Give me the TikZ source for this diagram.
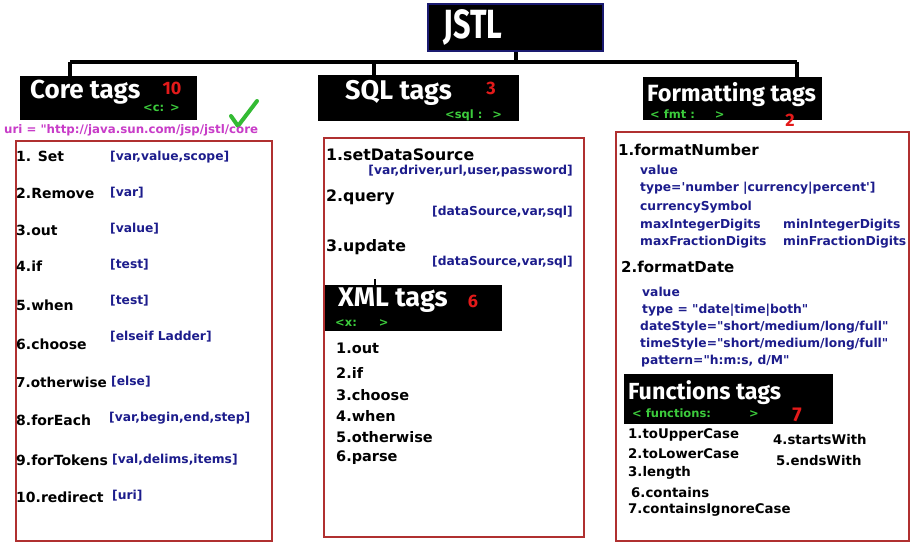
\documentclass[tikz,border=0pt]{standalone}
\usepackage{fontspec}
\setmainfont{DejaVu Sans}[Ligatures=TeXOff]
\newfontfamily\hdrfont{Fira Sans}
\usetikzlibrary{calc}
\definecolor{boxred}{HTML}{B03030}
\definecolor{attrblue}{HTML}{1C1C8C}
\definecolor{tagGreen}{HTML}{3CCB3C}
\definecolor{numred}{HTML}{E31A1A}
\definecolor{urimag}{HTML}{C83CC8}
\definecolor{jstlnavy}{HTML}{1A1A70}
\definecolor{checkgreen}{HTML}{33BB33}
\begin{document}
\begin{tikzpicture}[x=1pt,y=-1pt,
  blackbox/.style={fill=black, draw=none, inner sep=0pt, anchor=north west},
  listbox/.style={draw=boxred, line width=2pt, fill=white, inner sep=0pt, anchor=north west},
  tree/.style={line width=4pt, black},
  hdrtext/.style={text=white, font=\hdrfont\bfseries\fontsize{26}{28}\selectfont, anchor=west, inner sep=0pt},
  greentext/.style={text=tagGreen, font=\bfseries\fontsize{11.5}{13}\selectfont, anchor=west, inner sep=0pt},
  numtext/.style={text=numred, font=\hdrfont\bfseries\fontsize{18}{20}\selectfont, inner sep=0pt},
  item/.style={font=\bfseries\fontsize{14}{16}\selectfont, anchor=west, inner sep=0pt},
  bigitem/.style={font=\bfseries\fontsize{15.8}{18}\selectfont, anchor=west, inner sep=0pt},
  attr/.style={text=attrblue, font=\bfseries\fontsize{12.3}{14}\selectfont, anchor=west, inner sep=0pt},
]
\useasboundingbox[fill=white] (0,0) rectangle (914,546);

% title
\node[blackbox, draw=jstlnavy, line width=2pt, minimum width=175pt, minimum height=47pt] (jstl) at (427,3) {};
\node[text=white, font=\hdrfont\bfseries\fontsize{34}{36}\selectfont, inner sep=0pt] (jstltxt) at (473,27) {\scalebox{0.9}[1.2]{JSTL}};

% header boxes
\node[blackbox, minimum width=177pt, minimum height=44pt] (core) at (20,76) {};
\node[blackbox, minimum width=201pt, minimum height=46pt] (sql) at (318,75) {};
\node[blackbox, minimum width=179pt, minimum height=43pt] (fmt) at (643,77) {};

% tree connectors
\coordinate (busL) at (70,62);
\coordinate (busM) at (374,62);
\coordinate (busR) at (797,62);
\draw[tree] (busL) -- (busR);
\draw[tree] (jstl.south) -- (jstl.south |- busL);
\draw[tree] (busL) -- (busL |- core.north);
\draw[tree] (busM) -- (busM |- sql.north);
\draw[tree] (busR) -- (busR |- fmt.north);

% list boxes
\node[listbox, minimum width=256pt, minimum height=400pt] (corelist) at (15,140) {};
\node[listbox, minimum width=260pt, minimum height=399pt] (sqllist) at (323,137) {};
\node[listbox, minimum width=293pt, minimum height=409pt] (fmtlist) at (615,131) {};

% inner header boxes
\node[blackbox, minimum width=177pt, minimum height=46pt] (xml) at (325,285) {};
\node[blackbox, minimum width=209pt, minimum height=50pt] (func) at (624,374) {};
\coordinate (xmlstub) at ($(xml.north west)+(50,-6)$);
\draw[line width=1.5pt] (xmlstub) -- (xmlstub |- xml.north);

% header texts
\node[hdrtext] (coreT) at (30,92) {Core tags};
\node[numtext] (coreN) at (172,88) {10};
\node[greentext] (coreG) at (143,108) {<c:\hspace{6pt}>};

\node[hdrtext, font=\hdrfont\bfseries\fontsize{27}{29}\selectfont] (sqlT) at (345,93) {SQL tags};
\node[numtext] (sqlN) at (491,88) {3};
\node[greentext] (sqlG) at (445,115) {<sql :\hspace{10pt}>};

\node[hdrtext, font=\hdrfont\bfseries\fontsize{23.5}{25}\selectfont] (fmtT) at (647,95) {Formatting tags};
\node[greentext] (fmtG) at (650,114) {< fmt :\hspace{20pt}>};
\node[numtext] (fmtN) at (790,120) {2};

\node[hdrtext, font=\hdrfont\bfseries\fontsize{27}{29}\selectfont] (xmlT) at (338,300) {XML tags};
\node[numtext] (xmlN) at (473,301) {6};
\node[greentext] (xmlG) at (335,323) {<x:\hspace{22pt}>};

\node[hdrtext, font=\hdrfont\bfseries\fontsize{23.3}{25}\selectfont] (funcT) at (628,393) {Functions tags};
\node[greentext] (funcG) at (632,413) {< functions:\hspace{38pt}>};
\node[numtext, font=\hdrfont\bfseries\fontsize{20}{22}\selectfont] (funcN) at (797,415) {7};

% check mark and uri
\draw[checkgreen, line width=4pt, line cap=round, line join=round] (231,116) -- (238,126) -- (257,101);
\node[text=urimag, font=\bfseries\fontsize{11.8}{13}\selectfont, anchor=west, inner sep=0pt] (uri) at (4,130) {uri = "http://java.sun.com/jsp/jstl/core};

% core items
\node[item] (c1) at (16,156) {1. Set};
\node[item] (c2) at (16,193) {2.Remove};
\node[item] (c3) at (16,230) {3.out};
\node[item] (c4) at (16,266) {4.if};
\node[item] (c5) at (16,305) {5.when};
\node[item] (c6) at (16,344) {6.choose};
\node[item, font=\bfseries\fontsize{13.6}{16}\selectfont] (c7) at (16,382) {7.otherwise};
\node[item] (c8) at (16,420) {8.forEach};
\node[item] (c9) at (16,460) {9.forTokens};
\node[item] (c10) at (16,497) {10.redirect};
\node[attr] (a1) at (110,157) {[var,value,scope]};
\node[attr] (a2) at (110,193) {[var]};
\node[attr] (a3) at (110,229) {[value]};
\node[attr] (a4) at (110,265) {[test]};
\node[attr] (a5) at (110,301) {[test]};
\node[attr] (a6) at (110,337) {[elseif Ladder]};
\node[attr] (a7) at (111,382) {[else]};
\node[attr] (a8) at (109,418) {[var,begin,end,step]};
\node[attr] (a9) at (112,460) {[val,delims,items]};
\node[attr] (a10) at (112,496) {[uri]};

% sql items
\node[bigitem] (s1) at (326,155) {1.setDataSource};
\node[attr, anchor=east] (sa1) at (573,171) {[var,driver,url,user,password]};
\node[bigitem] (s2) at (326,197) {2.query};
\node[attr, anchor=east] (sa2) at (573,212) {[dataSource,var,sql]};
\node[bigitem] (s3) at (326,247) {3.update};
\node[attr, anchor=east] (sa3) at (573,262) {[dataSource,var,sql]};

% xml items
\node[item, font=\bfseries\fontsize{14.5}{16}\selectfont] (x1) at (336,348) {1.out};
\node[item, font=\bfseries\fontsize{14.5}{16}\selectfont] (x2) at (336,373) {2.if};
\node[item, font=\bfseries\fontsize{14.5}{16}\selectfont] (x3) at (336,395) {3.choose};
\node[item, font=\bfseries\fontsize{14.5}{16}\selectfont] (x4) at (336,416) {4.when};
\node[item, font=\bfseries\fontsize{14.5}{16}\selectfont] (x5) at (336,437) {5.otherwise};
\node[item, font=\bfseries\fontsize{14.5}{16}\selectfont] (x6) at (336,458) {6.parse};

% formatting items
\node[bigitem, font=\bfseries\fontsize{15}{17}\selectfont] (f1) at (618,150) {1.formatNumber};
\node[attr] (fa1) at (640,170) {value};
\node[attr] (fa2) at (640,188) {type='number |currency|percent']};
\node[attr] (fa3) at (640,207) {currencySymbol};
\node[attr] (fa4) at (640,225) {maxIntegerDigits};
\node[attr] (fa5) at (783,225) {minIntegerDigits};
\node[attr] (fa6) at (640,242) {maxFractionDigits};
\node[attr] (fa7) at (783,242) {minFractionDigits};
\node[bigitem, font=\bfseries\fontsize{15}{17}\selectfont] (f2) at (621,267) {2.formatDate};
\node[attr] (fb1) at (642,292) {value};
\node[attr] (fb2) at (642,310) {type = "date|time|both"};
\node[attr] (fb3) at (640,327) {dateStyle="short/medium/long/full"};
\node[attr] (fb4) at (640,344) {timeStyle="short/medium/long/full"};
\node[attr] (fb5) at (641,361) {pattern="h:m:s, d/M"};

% function items
\node[item, font=\bfseries\fontsize{13.3}{15}\selectfont] (u1) at (628,435) {1.toUpperCase};
\node[item, font=\bfseries\fontsize{13.3}{15}\selectfont] (u2) at (628,454) {2.toLowerCase};
\node[item, font=\bfseries\fontsize{13.3}{15}\selectfont] (u3) at (628,473) {3.length};
\node[item, font=\bfseries\fontsize{13.3}{15}\selectfont] (u6) at (631,493) {6.contains};
\node[item, font=\bfseries\fontsize{13.3}{15}\selectfont] (u7) at (628,510) {7.containsIgnoreCase};
\node[item, font=\bfseries\fontsize{13.3}{15}\selectfont] (u4) at (773,440) {4.startsWith};
\node[item, font=\bfseries\fontsize{13.3}{15}\selectfont] (u5) at (776,461) {5.endsWith};
\end{tikzpicture}
\end{document}
